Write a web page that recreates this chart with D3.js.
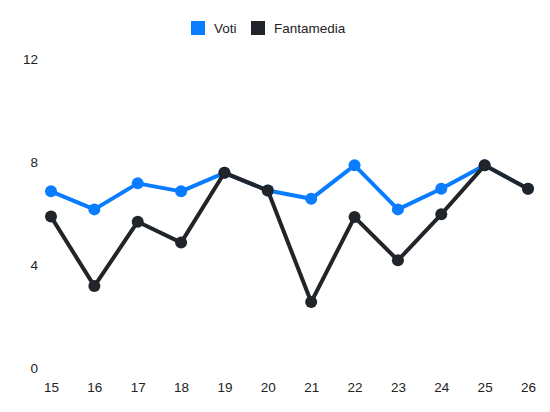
<!DOCTYPE html>
<html><head><meta charset="utf-8">
<script src="https://cdn.jsdelivr.net/npm/d3@7"></script>
<style>body{margin:0;background:#fff}svg{display:block;font-family:"Liberation Sans",Arial,sans-serif}</style>
</head><body><svg id="c" width="550" height="412"></svg>
<script>
const giornate = [15,16,17,18,19,20,21,22,23,24,25,26];
const voti = [6.86,6.16,7.17,6.86,7.58,6.89,6.57,7.87,6.16,6.96,7.87,6.96];
const fantamedia = [5.88,3.18,5.68,4.87,7.58,6.89,2.56,5.86,4.18,5.97,7.87,6.96];
const yTicks = [0,4,8,12];
const seriesNames = ["Voti","Fantamedia"];
const colors = ["#0a7cff","#212529"];

const svg = d3.select("#c");
const x = d3.scalePoint().domain(giornate).range([51,528]);
const y = d3.scaleLinear().domain([0,12]).range([368,59]);

const yAxis = svg.append("g").attr("transform","translate(38,0)")
  .call(d3.axisLeft(y).tickValues(yTicks).tickSize(0).tickPadding(0));
yAxis.select(".domain").remove();
yAxis.selectAll("text").attr("font-size",13.5).attr("fill","#222").attr("font-family","Liberation Sans, Arial, sans-serif");

const xAxis = svg.append("g").attr("transform","translate(0,382.5)")
  .call(d3.axisBottom(x).tickSize(0).tickPadding(0));
xAxis.select(".domain").remove();
xAxis.selectAll("text").attr("font-size",13.5).attr("fill","#222").attr("font-family","Liberation Sans, Arial, sans-serif");

const data = [voti, fantamedia];
const line = d3.line().x((d,i)=>x(giornate[i])).y(d=>y(d));
data.forEach((vals,k)=>{
  const g = svg.append("g");
  g.append("path").datum(vals).attr("d",line).attr("fill","none")
    .attr("stroke",colors[k]).attr("stroke-width",4).attr("stroke-linejoin","round");
  g.selectAll("circle").data(vals).join("circle")
    .attr("cx",(d,i)=>x(giornate[i])).attr("cy",d=>y(d)).attr("r",6).attr("fill",colors[k]);
});

const legend = svg.append("g");
const lx = [191,251];
seriesNames.forEach((n,k)=>{
  legend.append("rect").attr("x",lx[k]).attr("y",21).attr("width",14).attr("height",14).attr("fill",colors[k]);
  legend.append("text").attr("x",lx[k]+23).attr("y",32.5).attr("font-size",13.5).attr("fill","#222").text(n);
});
</script></body></html>
